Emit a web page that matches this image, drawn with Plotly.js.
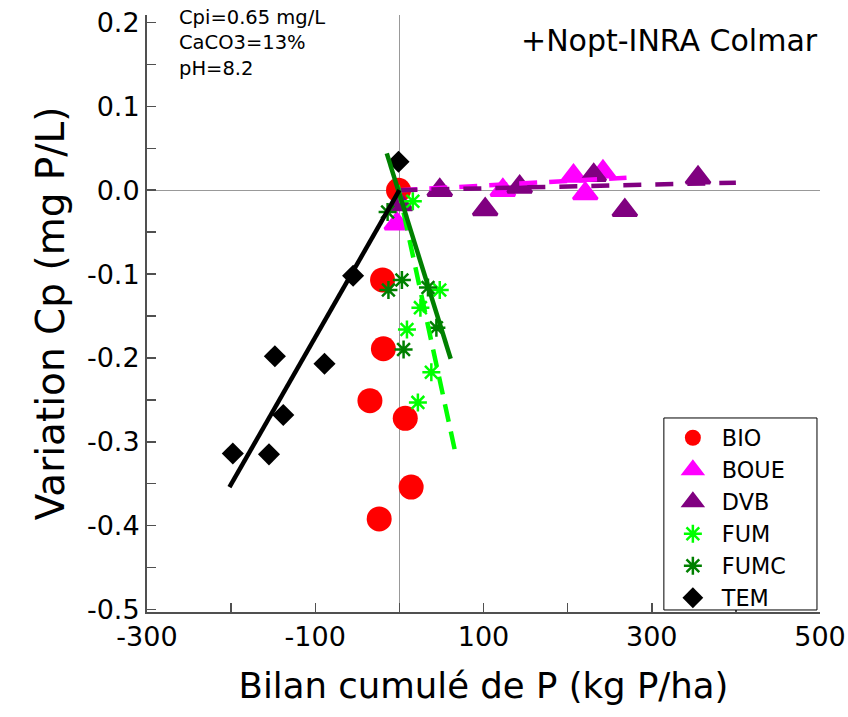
<!DOCTYPE html>
<html>
<head>
<meta charset="utf-8">
<script src="https://cdn.plot.ly/plotly-3.0.1.min.js"></script>
<style>html,body{margin:0;padding:0;background:#fff;}#chart{width:848px;height:717px;}</style>
</head>
<body>
<div id="chart"></div>
<script>
// ---- data ----
const bioX  = [-1, -20, -19, -35, 7, 14, -24];
const bioY  = [0.000, -0.107, -0.189, -0.251, -0.272, -0.354, -0.392];

const boueX = [-3, 123, 207, 242, 221];
const boueY = [-0.040, 0.000, 0.017, 0.022, -0.004];

const dvbX  = [1, 48, 102, 143, 231, 268, 355];
const dvbY  = [-0.017, 0.000, -0.023, 0.004, 0.018, -0.024, 0.015];

const fumX  = [16, 48, 25, 9, 38, 22];
const fumY  = [-0.013, -0.119, -0.140, -0.166, -0.217, -0.253];

const fumcX = [-14, 3, -13, 34, 44, 5];
const fumcY = [-0.026, -0.107, -0.119, -0.116, -0.164, -0.190];

const temX  = [-198, -155, -138, -148, -89, -55, -1];
const temY  = [-0.314, -0.315, -0.268, -0.198, -0.207, -0.102, 0.034];

// fitted trend lines (end points)
const boueFitX = [0, 270];      const boueFitY = [0.000, 0.015];
const dvbFitX  = [0, 400];      const dvbFitY  = [0.000, 0.009];
const fumFitX  = [-2, 67];      const fumFitY  = [0.006, -0.315];
const fumcFitX = [-15, 61];     const fumcFitY = [0.044, -0.201];
const temFitX  = [-202, 0];     const temFitY  = [-0.354, 0.000];

// axis ticks
const xTickVals = [-300, -100, 100, 300, 500];
const xTickText = ['-300', '-100', '100', '300', '500'];
const yTickVals = [0.2, 0.1, 0.0, -0.1, -0.2, -0.3, -0.4, -0.5];
const yTickText = ['0.2', '0.1', '0.0', '-0.1', '-0.2', '-0.3', '-0.4', '-0.5'];

const FONT = 'DejaVu Sans, Verdana, sans-serif';

function pts(name, x, y, symbol, color, size, lineW) {
  return {
    type: 'scatter', mode: 'markers', name: name, x: x, y: y,
    marker: {symbol: symbol, color: color, size: size,
             line: {color: color, width: lineW || 0}},
    cliponaxis: false
  };
}
function fit(x, y, color, dash) {
  return {
    type: 'scatter', mode: 'lines', x: x, y: y, showlegend: false, hoverinfo: 'skip',
    line: {color: color, width: 4.5, dash: dash}
  };
}

const traces = [
  pts('BIO', bioX, bioY, 'circle', '#ff0000', 25),
  pts('BOUE', boueX, boueY, 'triangle-up', '#ff00ff', 21, 3),
  pts('DVB', dvbX, dvbY, 'triangle-up', '#800080', 21, 3),
  pts('FUM', fumX, fumY, 'asterisk-open', '#00ff00', 15, 2.5),
  pts('FUMC', fumcX, fumcY, 'asterisk-open', '#008000', 15, 2.5),
  pts('TEM', temX, temY, 'diamond', '#000000', 17),
  fit(boueFitX, boueFitY, '#ff00ff', '18px,12px'),
  fit(dvbFitX, dvbFitY, '#800080', '18px,14px'),
  fit(fumFitX, fumFitY, '#00ff00', '18px,10px'),
  fit(fumcFitX, fumcFitY, '#008000', 'solid'),
  fit(temFitX, temFitY, '#000000', 'solid')
];

const layout = {
  width: 848, height: 717,
  margin: {l: 147, r: 28, t: 15, b: 105},
  paper_bgcolor: '#ffffff', plot_bgcolor: '#ffffff',
  font: {family: FONT, color: '#000000', size: 20},
  showlegend: true,
  legend: {
    x: 0.768, y: 0.327, xanchor: 'left', yanchor: 'top',
    bgcolor: 'rgba(0,0,0,0)', borderwidth: 0,
    font: {family: FONT, size: 22.3, color: '#000000'},
    itemwidth: 48, tracegroupgap: 0
  },
  shapes: [
    {type: 'rect', xref: 'paper', yref: 'paper', x0: 0.768, x1: 0.9955, y0: 0.0034, y1: 0.325,
     fillcolor: '#ffffff', line: {color: '#000000', width: 1}, layer: 'above'}
  ],
  xaxis: {
    range: [-300, 500], showgrid: false,
    zeroline: true, zerolinecolor: '#999999', zerolinewidth: 1,
    showline: true, linecolor: '#505050', linewidth: 2, mirror: false,
    ticks: 'inside', ticklen: 9, tickwidth: 1.5, tickcolor: '#505050',
    tickmode: 'array', tickvals: xTickVals, ticktext: xTickText,
    tickfont: {family: FONT, size: 27, color: '#000000'},
    minor: {dtick: 100, tick0: 0, ticks: 'inside', ticklen: 9, tickwidth: 1.5, tickcolor: '#505050', showgrid: false},
    title: {text: 'Bilan cumulé de P (kg P/ha)', font: {family: FONT, size: 35.5, color: '#000000'}, standoff: 22},
    automargin: false
  },
  yaxis: {
    range: [-0.503, 0.209], showgrid: false,
    zeroline: true, zerolinecolor: '#999999', zerolinewidth: 1,
    showline: true, linecolor: '#505050', linewidth: 2, mirror: false,
    ticks: 'inside', ticklen: 9, tickwidth: 1.5, tickcolor: '#505050',
    tickmode: 'array', tickvals: yTickVals, ticktext: yTickText,
    tickfont: {family: FONT, size: 27, color: '#000000'},
    minor: {dtick: 0.05, tick0: 0, ticks: 'inside', ticklen: 9, tickwidth: 1.5, tickcolor: '#505050', showgrid: false},
    title: {text: 'Variation Cp (mg P/L)', font: {family: FONT, size: 39, color: '#000000'}, standoff: 10},
    automargin: false
  },
  annotations: [
    {xref: 'paper', yref: 'paper', x: 0.045, y: 1.018, xanchor: 'left', yanchor: 'top', align: 'left',
     showarrow: false, text: 'Cpi=0.65 mg/L<br>CaCO3=13%<br>pH=8.2',
     font: {family: FONT, size: 19.5, color: '#000000'}},
    {xref: 'paper', yref: 'paper', x: 1.0, y: 0.99, xanchor: 'right', yanchor: 'top',
     showarrow: false, text: '+Nopt-INRA Colmar',
     font: {family: FONT, size: 30, color: '#000000'}}
  ]
};

Plotly.newPlot('chart', traces, layout, {staticPlot: true, displayModeBar: false});
</script>
</body>
</html>
